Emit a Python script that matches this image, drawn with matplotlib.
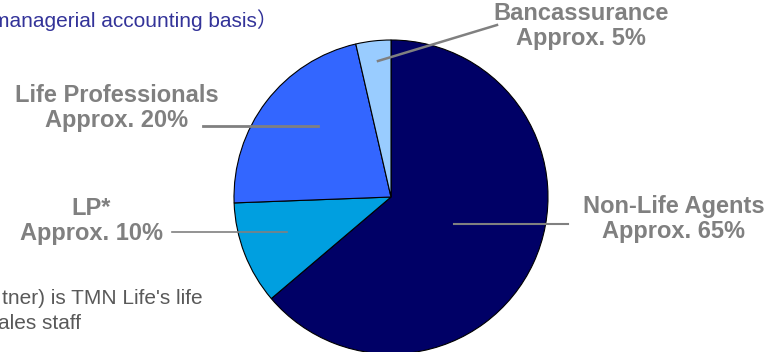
import matplotlib
matplotlib.use("Agg")
from matplotlib import pyplot as plt
from matplotlib.lines import Line2D

plt.rcParams['font.family'] = ['Liberation Sans', 'Noto Sans CJK JP', 'DejaVu Sans']

# channel shares (clockwise from 12 o'clock)
channels = ['Non-Life Agents', 'LP*', 'Life Professionals', 'Bancassurance']
shares = [63.8, 10.6, 22.0, 3.6]
share_labels = ['Approx. 65%', 'Approx. 10%', 'Approx. 20%', 'Approx. 5%']
colors = ['#000066', '#009FE0', '#3366FF', '#99CCFF']

W, H = 770, 352
fig = plt.figure(figsize=(W / 100, H / 100), dpi=100)


def fx(px):
    return px / W


def fy(py):
    return 1 - py / H


# pie centre / radius in pixels
cx, cy, r = 391, 197, 157
ax = fig.add_axes([fx(cx - r), fy(cy + r), 2 * r / W, 2 * r / H])
ax.pie(shares, colors=colors, startangle=90, counterclock=False, radius=1,
       wedgeprops=dict(edgecolor='black', linewidth=0.8))
ax.set_xlim(-1, 1)
ax.set_ylim(-1, 1)
ax.set_aspect('auto')
ax.axis('off')

# label positions: (centre x, first baseline y), leader line (x0, y0, x1, y1)
label_pos = [(674, 213), (91, 215), (117, 102), (581, 20)]
leaders = [(454, 224, 568, 224), (172, 232, 287, 232),
           (203, 126, 318, 126), (497, 25, 378, 61)]
leader_w = [1.5, 1.2, 2.0, 1.8]

gray = '#808080'
for name, lab, (x, y), (x0, y0, x1, y1), lw in zip(channels, share_labels,
                                                   label_pos, leaders, leader_w):
    fig.text(fx(x), fy(y), name, ha='center', va='baseline',
             fontsize=17, fontweight='bold', color=gray)
    fig.text(fx(x), fy(y + 25), lab, ha='center', va='baseline',
             fontsize=17, fontweight='bold', color=gray)
    fig.add_artist(Line2D([fx(x0), fx(x1)], [fy(y0), fy(y1)],
                          color=gray, linewidth=lw))

# subtitle and footnote
fig.text(fx(-8), fy(27), 'managerial accounting basis）', ha='left',
         va='baseline', fontsize=15, color='#333399')
fig.text(fx(2), fy(304), "tner) is TMN Life's life", ha='left',
         va='baseline', fontsize=15, color='#595959')
fig.text(fx(-2), fy(329), 'ales staff', ha='left',
         va='baseline', fontsize=15, color='#595959')

fig.savefig('out.png', dpi=100)
